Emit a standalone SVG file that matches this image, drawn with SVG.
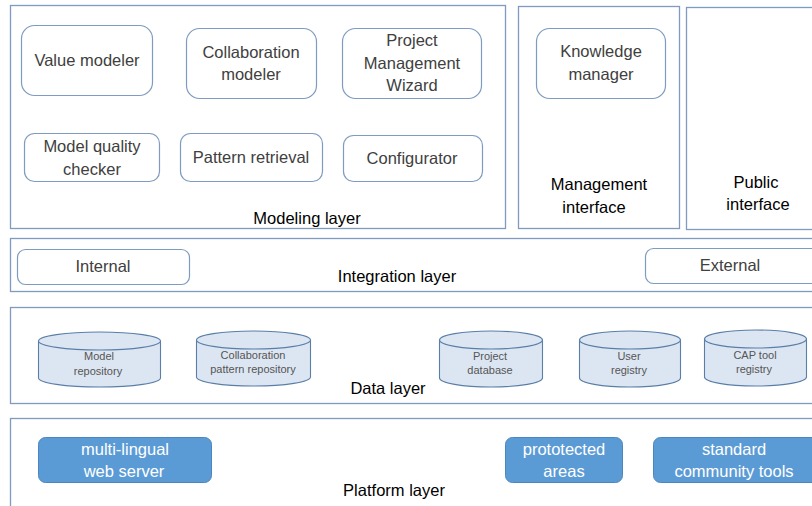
<svg xmlns="http://www.w3.org/2000/svg" width="812" height="506" viewBox="0 0 812 506">
  <style>
    .layer { fill: #ffffff; stroke: #7f9cc0; stroke-width: 1.3; }
    .box { fill: #ffffff; stroke: #7f9cc0; stroke-width: 1.2; }
    .plat { fill: #5b9bd5; stroke: #4a86c0; stroke-width: 1; }
    .cyl { fill: #dce6f2; stroke: #5a7ea8; stroke-width: 1.1; }
    text { font-family: "Liberation Sans", Arial, sans-serif; text-anchor: middle; }
    .t { font-size: 16.5px; fill: #404040; }
    .l { font-size: 16.5px; fill: #000000; }
    .c { font-size: 11px; fill: #555555; }
    .w { font-size: 16.5px; fill: #ffffff; }
  </style>
  <rect width="812" height="506" fill="#ffffff"/>

  <!-- layers -->
  <g id="modeling-layer">
    <rect class="layer" x="10.5" y="5.5" width="495" height="223"/>
    <text class="l" x="307" y="224">Modeling layer</text>
  </g>
  <g id="management-interface">
    <rect class="layer" x="518.5" y="6.5" width="161" height="222"/>
    <text class="l" x="599" y="190">Management</text>
    <text class="l" x="594" y="213">interface</text>
  </g>
  <g id="public-interface">
    <rect class="layer" x="686.5" y="7.5" width="140" height="222"/>
    <text class="l" x="756" y="188">Public</text>
    <text class="l" x="758" y="210">interface</text>
  </g>
  <g id="integration-layer">
    <rect class="layer" x="10.5" y="238.5" width="820" height="53"/>
    <text class="l" x="397" y="282">Integration layer</text>
  </g>
  <g id="data-layer">
    <rect class="layer" x="10.5" y="307.5" width="820" height="96"/>
    <text class="l" x="388" y="394">Data layer</text>
  </g>
  <g id="platform-layer">
    <rect class="layer" x="10.5" y="418.5" width="820" height="100"/>
    <text class="l" x="394" y="496">Platform layer</text>
  </g>

  <!-- modeling components -->
  <g id="value-modeler">
    <rect class="box" x="21.5" y="25.5" width="131" height="70" rx="13"/>
    <text class="t" x="87" y="66">Value modeler</text>
  </g>
  <g id="collaboration-modeler">
    <rect class="box" x="186.5" y="28.5" width="130" height="70" rx="13"/>
    <text class="t" x="251" y="58">Collaboration</text>
    <text class="t" x="251" y="80">modeler</text>
  </g>
  <g id="project-management-wizard">
    <rect class="box" x="342.5" y="28.5" width="139" height="70" rx="13"/>
    <text class="t" x="412" y="46">Project</text>
    <text class="t" x="412" y="69">Management</text>
    <text class="t" x="412" y="91">Wizard</text>
  </g>
  <g id="model-quality-checker">
    <rect class="box" x="24.5" y="133.5" width="135" height="48" rx="10"/>
    <text class="t" x="92" y="152">Model quality</text>
    <text class="t" x="92" y="175">checker</text>
  </g>
  <g id="pattern-retrieval">
    <rect class="box" x="180.5" y="133.5" width="142" height="48" rx="10"/>
    <text class="t" x="251" y="163">Pattern retrieval</text>
  </g>
  <g id="configurator">
    <rect class="box" x="343.5" y="135.5" width="139" height="46" rx="10"/>
    <text class="t" x="412" y="164">Configurator</text>
  </g>
  <g id="knowledge-manager">
    <rect class="box" x="536.5" y="28.5" width="129" height="70" rx="13"/>
    <text class="t" x="601" y="57">Knowledge</text>
    <text class="t" x="601" y="80">manager</text>
  </g>

  <!-- integration components -->
  <g id="internal">
    <rect class="box" x="17.5" y="249.5" width="172" height="35" rx="8"/>
    <text class="t" x="103" y="272">Internal</text>
  </g>
  <g id="external">
    <rect class="box" x="645.5" y="248.5" width="180" height="35" rx="8"/>
    <text class="t" x="730" y="271">External</text>
  </g>

  <!-- data stores -->
  <g id="model-repository">
    <path class="cyl" d="M38.5,341 A61,9 0 0 1 160.5,341 V378 A61,9 0 0 1 38.5,378 Z"/>
    <path class="cyl" d="M38.5,341 A61,9 0 0 0 160.5,341" fill="none"/>
    <text class="c" x="99" y="360">Model</text>
    <text class="c" x="98" y="375">repository</text>
  </g>
  <g id="collaboration-pattern-repository">
    <path class="cyl" d="M196.5,340 A57,9 0 0 1 310.5,340 V377 A57,9 0 0 1 196.5,377 Z"/>
    <path class="cyl" d="M196.5,340 A57,9 0 0 0 310.5,340" fill="none"/>
    <text class="c" x="253" y="359">Collaboration</text>
    <text class="c" x="253" y="373">pattern repository</text>
  </g>
  <g id="project-database">
    <path class="cyl" d="M439.5,340 A51.5,9 0 0 1 542.5,340 V378 A51.5,9 0 0 1 439.5,378 Z"/>
    <path class="cyl" d="M439.5,340 A51.5,9 0 0 0 542.5,340" fill="none"/>
    <text class="c" x="490" y="360">Project</text>
    <text class="c" x="490" y="374">database</text>
  </g>
  <g id="user-registry">
    <path class="cyl" d="M579.5,340 A50.5,9 0 0 1 680.5,340 V378 A50.5,9 0 0 1 579.5,378 Z"/>
    <path class="cyl" d="M579.5,340 A50.5,9 0 0 0 680.5,340" fill="none"/>
    <text class="c" x="629" y="360">User</text>
    <text class="c" x="629" y="374">registry</text>
  </g>
  <g id="cap-tool-registry">
    <path class="cyl" d="M704.5,339 A51,9 0 0 1 806.5,339 V377 A51,9 0 0 1 704.5,377 Z"/>
    <path class="cyl" d="M704.5,339 A51,9 0 0 0 806.5,339" fill="none"/>
    <text class="c" x="755" y="359">CAP tool</text>
    <text class="c" x="754" y="373">registry</text>
  </g>

  <!-- platform components -->
  <g id="multi-lingual-web-server">
    <rect class="plat" x="38.5" y="437.5" width="173" height="45" rx="7"/>
    <text class="w" x="125" y="455">multi-lingual</text>
    <text class="w" x="124" y="477">web server</text>
  </g>
  <g id="protected-areas">
    <rect class="plat" x="505.5" y="437.5" width="117" height="45" rx="7"/>
    <text class="w" x="564" y="455">prototected</text>
    <text class="w" x="564" y="477">areas</text>
  </g>
  <g id="standard-community-tools">
    <rect class="plat" x="653.5" y="437.5" width="170" height="45" rx="7"/>
    <text class="w" x="734" y="455">standard</text>
    <text class="w" x="734" y="477">community tools</text>
  </g>

  <g id="connectors"></g>
</svg>
